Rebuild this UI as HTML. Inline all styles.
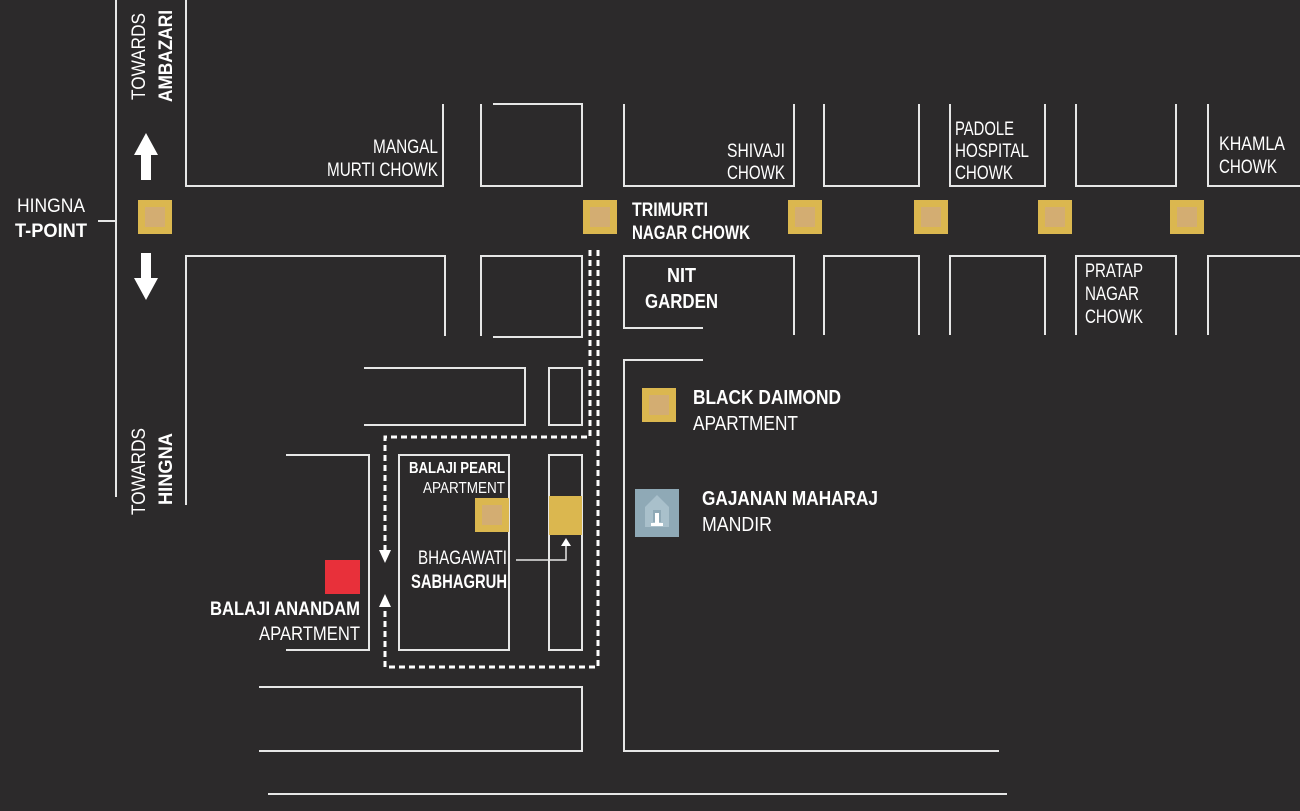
<!DOCTYPE html>
<html><head><meta charset="utf-8"><style>
html,body{margin:0;padding:0;background:#2c2a2b;}
svg{display:block}
text{font-family:"Liberation Sans Narrow","Liberation Sans",sans-serif;fill:#fff;font-size:19px}
.b{font-weight:bold}
</style></head><body>
<svg width="1300" height="811" viewBox="0 0 1300 811" xmlns="http://www.w3.org/2000/svg">
<rect width="1300" height="811" fill="#2c2a2b"/>
<g stroke="#e6e6e6" stroke-width="2" fill="none">
<line x1="116" y1="0" x2="116" y2="497"/>
<line x1="98" y1="221" x2="116" y2="221"/>
<polyline points="186,0 186,186 443,186 443,104"/>
<polyline points="186,505 186,256 445,256 445,336"/>
<polyline points="481,104 481,186 582,186 582,104 493,104"/>
<polyline points="624,104 624,186 794,186 794,104"/>
<polyline points="824,104 824,186 919,186 919,104"/>
<polyline points="950,104 950,186 1045,186 1045,104"/>
<polyline points="1076,104 1076,186 1176,186 1176,104"/>
<polyline points="1208,104 1208,186 1300,186"/>
<polyline points="481,336 481,256 582,256 582,337 493,337"/>
<polyline points="703,328 624,328 624,256 794,256 794,335"/>
<polyline points="824,335 824,256 919,256 919,335"/>
<polyline points="950,335 950,256 1045,256 1045,335"/>
<polyline points="1076,335 1076,256 1176,256 1176,335"/>
<polyline points="1208,335 1208,256 1300,256"/>
<polyline points="364,368 525,368 525,425 364,425"/>
<rect x="549" y="368" width="33" height="57"/>
<rect x="399" y="455" width="110" height="195"/>
<rect x="549" y="455" width="33" height="195"/>
<polyline points="286,455 369,455 369,650 286,650"/>
<polyline points="259,687 582,687 582,751 259,751"/>
<polyline points="703,360 624,360 624,751 999,751"/>
<line x1="268" y1="794" x2="1007" y2="794"/>
<polyline points="516,560 566,560 566,545" stroke-width="1.5"/>
</g>
<polygon points="566,538 561,546 571,546" fill="#fff"/>
<g stroke="#fff" stroke-width="3" fill="none" stroke-dasharray="6,4">
<polyline points="590,250 590,437 385,437 385,550"/>
<polyline points="598,250 598,667 385,667 385,605"/>
</g>
<polygon points="379,550 391,550 385,563" fill="#fff"/>
<polygon points="379,607 391,607 385,594" fill="#fff"/>
<polygon points="146,133 158,155 151,155 151,180 141,180 141,155 134,155" fill="#fff"/>
<polygon points="146,300 158,278 151,278 151,253 141,253 141,278 134,278" fill="#fff"/>
<g fill="#dbb74f"><rect x="138" y="200" width="34" height="34"/><rect x="583" y="200" width="34" height="34"/><rect x="788" y="200" width="34" height="34"/><rect x="914" y="200" width="34" height="34"/><rect x="1038" y="200" width="34" height="34"/><rect x="1170" y="200" width="34" height="34"/><rect x="642" y="388" width="34" height="34"/><rect x="475" y="498" width="34" height="34"/><rect x="549" y="496" width="33" height="39"/></g>
<g fill="#d3ad72"><rect x="145" y="207" width="20" height="20"/><rect x="590" y="207" width="20" height="20"/><rect x="795" y="207" width="20" height="20"/><rect x="921" y="207" width="20" height="20"/><rect x="1045" y="207" width="20" height="20"/><rect x="1177" y="207" width="20" height="20"/><rect x="649" y="395" width="20" height="20"/><rect x="482" y="505" width="20" height="20"/></g>
<rect x="325" y="560" width="35" height="34" fill="#e8303a"/>
<rect x="635" y="489" width="44" height="48" fill="#8fa9b6"/>
<polygon points="657,495 669,507 669,527 645,527 645,507" fill="#a9c0cb"/>
<rect x="653" y="510" width="8" height="12" fill="#8fa9b6"/>
<rect x="655" y="513" width="4" height="10" fill="#fff"/>
<rect x="651" y="523" width="12" height="3" fill="#fff"/>
<g lengthAdjust="spacingAndGlyphs">
<text x="17" y="212" textLength="68" lengthAdjust="spacingAndGlyphs">HINGNA</text>
<text x="15" y="237" class="b" textLength="72" lengthAdjust="spacingAndGlyphs">T-POINT</text>
<text transform="translate(145,100) rotate(-90)" textLength="87" lengthAdjust="spacingAndGlyphs">TOWARDS</text>
<text transform="translate(172,102) rotate(-90)" class="b" textLength="92" lengthAdjust="spacingAndGlyphs">AMBAZARI</text>
<text transform="translate(145,515) rotate(-90)" textLength="87" lengthAdjust="spacingAndGlyphs">TOWARDS</text>
<text transform="translate(172,505) rotate(-90)" class="b" textLength="72" lengthAdjust="spacingAndGlyphs">HINGNA</text>
<text x="373" y="153" textLength="65" lengthAdjust="spacingAndGlyphs">MANGAL</text>
<text x="327" y="176" textLength="111" lengthAdjust="spacingAndGlyphs">MURTI CHOWK</text>
<text x="727" y="157" textLength="58" lengthAdjust="spacingAndGlyphs">SHIVAJI</text>
<text x="727" y="179" textLength="58" lengthAdjust="spacingAndGlyphs">CHOWK</text>
<text x="409" y="473" class="b" style="font-size:16px" textLength="96" lengthAdjust="spacingAndGlyphs">BALAJI PEARL</text>
<text x="423" y="493" style="font-size:16px" textLength="82" lengthAdjust="spacingAndGlyphs">APARTMENT</text>
<text x="418" y="564" textLength="89" lengthAdjust="spacingAndGlyphs">BHAGAWATI</text>
<text x="411" y="588" class="b" textLength="96" lengthAdjust="spacingAndGlyphs">SABHAGRUH</text>
<text x="210" y="615" class="b" textLength="150" lengthAdjust="spacingAndGlyphs">BALAJI ANANDAM</text>
<text x="259" y="640" textLength="101" lengthAdjust="spacingAndGlyphs">APARTMENT</text>
<text x="955" y="135" textLength="59" lengthAdjust="spacingAndGlyphs">PADOLE</text>
<text x="955" y="157" textLength="74" lengthAdjust="spacingAndGlyphs">HOSPITAL</text>
<text x="955" y="179" textLength="58" lengthAdjust="spacingAndGlyphs">CHOWK</text>
<text x="1219" y="150" textLength="66" lengthAdjust="spacingAndGlyphs">KHAMLA</text>
<text x="1219" y="173" textLength="58" lengthAdjust="spacingAndGlyphs">CHOWK</text>
<text x="632" y="216" class="b" textLength="76" lengthAdjust="spacingAndGlyphs">TRIMURTI</text>
<text x="632" y="239" class="b" textLength="118" lengthAdjust="spacingAndGlyphs">NAGAR CHOWK</text>
<text x="667" y="282" class="b" style="font-size:20px" textLength="29" lengthAdjust="spacingAndGlyphs">NIT</text>
<text x="645" y="308" class="b" style="font-size:20px" textLength="73" lengthAdjust="spacingAndGlyphs">GARDEN</text>
<text x="1085" y="277" textLength="58" lengthAdjust="spacingAndGlyphs">PRATAP</text>
<text x="1085" y="300" textLength="54" lengthAdjust="spacingAndGlyphs">NAGAR</text>
<text x="1085" y="323" textLength="58" lengthAdjust="spacingAndGlyphs">CHOWK</text>
<text x="693" y="404" class="b" style="font-size:20px" textLength="148" lengthAdjust="spacingAndGlyphs">BLACK DAIMOND</text>
<text x="693" y="430" style="font-size:20px" textLength="105" lengthAdjust="spacingAndGlyphs">APARTMENT</text>
<text x="702" y="505" class="b" style="font-size:20px" textLength="176" lengthAdjust="spacingAndGlyphs">GAJANAN MAHARAJ</text>
<text x="702" y="531" style="font-size:20px" textLength="70" lengthAdjust="spacingAndGlyphs">MANDIR</text>
</g>
</svg>
</body></html>
